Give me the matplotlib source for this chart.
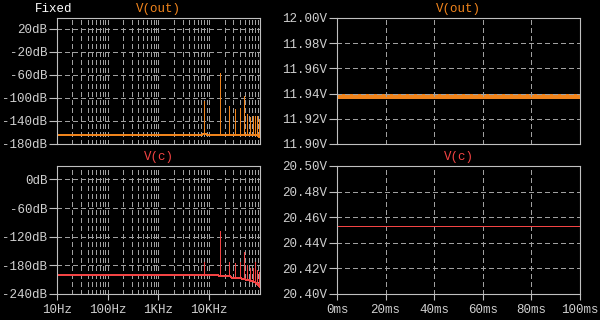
import matplotlib
matplotlib.use("Agg")
import matplotlib.pyplot as plt

# colours (LTspice-ish)
ORANGE = "#f0841c"
RED = "#f44444"
FRAME = "#c0c0c0"
GRID = "#a0a0a0"
TEXT = "#d0d0d0"

# --- FFT data (left panels) ---
harm_hz = [8000, 16000, 24000, 32000, 40000, 48000, 56000, 64000, 72000, 80000, 88000, 96000]

out_floor_hz = [10, 7000, 7400, 8600, 9000, 90000, 94000, 100000]
out_floor_db = [-165, -165, -163, -163, -164, -164, -168, -168]
out_base_db = [-163, -164, -164, -164, -164, -164, -164, -164, -164, -165, -166, -168]
out_peak_db = [-106, -56, -114, -119, -118, -96, -128, -133, -131, -131, -132, -137]

c_floor_hz = [10, 15000, 16500, 26000, 27000, 36000, 48000, 64000, 80000, 90000, 100000]
c_floor_db = [-201, -201, -203, -203, -205.5, -205.5, -209, -212, -215, -219, -225]
c_base_db = [-201, -201, -203, -205, -207, -208, -210, -212, -214, -216, -219, -223]
c_peak_db = [-174, -109, -174, -176, -174, -153, -179, -185, -185, -174, -190, -194]

# --- transient data (right panels) ---
t_ms = [0, 100]
vout_lo = [11.9355, 11.9355]
vout_hi = [11.940, 11.940]
vc = [20.4534, 20.4534]

out_db_ticks = [20, -20, -60, -100, -140, -180]
c_db_ticks = [0, -60, -120, -180, -240]
freq_ticks = [10, 100, 1000, 10000]
freq_labels = ["10Hz", "100Hz", "1KHz", "10KHz"]
vout_ticks = [11.90, 11.92, 11.94, 11.96, 11.98, 12.00]
vc_ticks = [20.40, 20.42, 20.44, 20.46, 20.48, 20.50]
t_ticks = [0, 20, 40, 60, 80, 100]

plt.rcParams["font.family"] = ["Liberation Mono", "DejaVu Sans Mono"]
plt.rcParams["font.size"] = 9
plt.rcParams["lines.antialiased"] = False
plt.rcParams["lines.scale_dashes"] = False

LW = 0.72  # one pixel at 100 dpi

fig = plt.figure(figsize=(6, 3.2), dpi=100, facecolor="black")

def make_ax(rect):
    ax = fig.add_axes(rect, facecolor="black")
    for s in ax.spines.values():
        s.set_color(FRAME)
        s.set_linewidth(0.8)
    ax.tick_params(colors=FRAME, labelcolor=TEXT, labelsize=9)
    ax.tick_params(axis="y", length=6, width=0.8, pad=1)
    ax.tick_params(axis="x", which="major", length=4.5, width=0.8, pad=3)
    ax.tick_params(axis="x", which="minor", length=2.2, width=0.8)
    return ax

def title(ax, txt, col):
    ax.annotate(txt, xy=(0.5, 1), xycoords="axes fraction", xytext=(0, 9),
                textcoords="offset pixels", ha="center", va="center",
                color=col, fontsize=9)

dash = (0, (2.9, 2.2))

ax_fo = make_ax([0.095, 0.55, 0.3383, 0.39375])
ax_fc = make_ax([0.095, 0.08125, 0.3383, 0.4])
ax_to = make_ax([0.5617, 0.55, 0.405, 0.39375])
ax_tc = make_ax([0.5617, 0.08125, 0.405, 0.4])

# FFT panels
for ax, fhz, fdb, base, peak, col, ticks, lim in [
        (ax_fo, out_floor_hz, out_floor_db, out_base_db, out_peak_db, ORANGE, out_db_ticks, (-180, 39)),
        (ax_fc, c_floor_hz, c_floor_db, c_base_db, c_peak_db, RED, c_db_ticks, (-240, 28))]:
    ax.set_xscale("log")
    ax.set_xlim(10, 100000)
    ax.set_ylim(*lim)
    ax.grid(True, which="both", axis="x", color=GRID, linestyle=dash, linewidth=LW)
    ax.grid(True, which="major", axis="y", color=GRID, linestyle=dash, linewidth=LW)
    ax.plot(fhz, fdb, color=col, linewidth=LW)
    ax.vlines(harm_hz, base, peak, color=col, linewidth=LW, antialiased=False)
    ax.set_yticks(ticks)
    ax.set_yticklabels([f"{v}dB" for v in ticks])
    ax.set_xticks(freq_ticks)
    ax.set_xticklabels(freq_labels)

ax_fo.tick_params(axis="x", which="both", length=0, labelbottom=False)

# transient panels
ax_to.fill_between(t_ms, vout_lo, vout_hi, color=ORANGE, linewidth=0)
ax_tc.plot(t_ms, vc, color=RED, linewidth=LW)
for ax, ticks in [(ax_to, vout_ticks), (ax_tc, vc_ticks)]:
    ax.set_xlim(0, 100)
    ax.set_ylim(ticks[0], ticks[-1])
    ax.grid(True, color=GRID, linestyle=dash, linewidth=LW)
    ax.set_yticks(ticks)
    ax.set_yticklabels([f"{v:.2f}V" for v in ticks])
    ax.set_xticks(t_ticks)
    ax.set_xticklabels([f"{v}ms" for v in t_ticks])
ax_to.tick_params(axis="x", length=0, labelbottom=False)

title(ax_fo, "V(out)", ORANGE)
title(ax_fc, "V(c)", RED)
title(ax_to, "V(out)", ORANGE)
title(ax_tc, "V(c)", RED)
fig.text(0.058, 1 - 9 / 320, "Fixed", color="white", fontsize=9, ha="left", va="center")

fig.savefig("out.png", dpi=100, facecolor="black")
